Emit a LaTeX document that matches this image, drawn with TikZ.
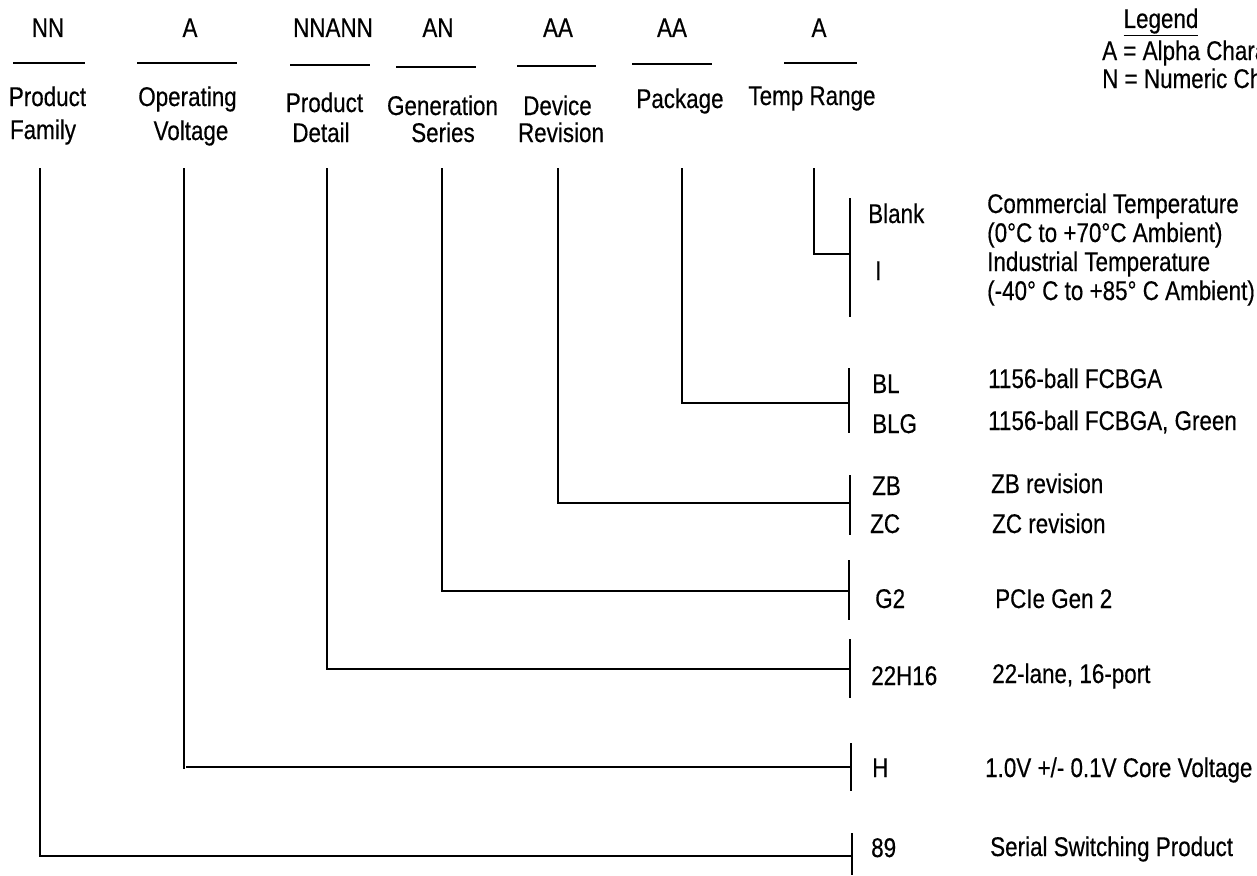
\documentclass[tikz,border=0pt]{standalone}
\usepackage{fontspec}
\setmainfont{Liberation Sans}[FakeStretch=0.83,FakeBold=0.4]
\newcommand\mysz{\fontsize{27}{30}\selectfont}
\begin{document}
\begin{tikzpicture}[x=1pt,y=-1pt,
  txt/.style={inner sep=0pt,font=\mysz,anchor=base},
  itm/.style={inner sep=0pt,font=\mysz,anchor=base west},
  ln/.style={line width=1.5pt},
  ul/.style={line width=2.2pt}]
\useasboundingbox (0,0) rectangle (1257,875);
\clip (0,0) rectangle (1257,875);
% codes
\node[txt] (c1) at (48,37) {NN};
\node[txt] (c2) at (190,37) {A};
\node[txt] (c3) at (333,37) {NNANN};
\node[txt] (c4) at (438,37) {AN};
\node[txt] (c5) at (558,37) {AA};
\node[txt] (c6) at (672,37) {AA};
\node[txt] (c7) at (819,37) {A};
% underlines
\draw[ul] (13,63) -- (85,63);
\draw[ul] (137,63) -- (237,63);
\draw[ul] (290,65) -- (370,65);
\draw[ul] (396,67) -- (476,67);
\draw[ul] (517,66) -- (596,66);
\draw[ul] (632,64) -- (712,64);
\draw[ul] (784,63) -- (857,63);
% field labels
\node[txt] (l1a) at (47.5,106) {Product};
\node[txt] (l1b) at (43,139) {Family};
\node[txt] (l2a) at (187.5,106) {Operating};
\node[txt] (l2b) at (191,140) {Voltage};
\node[txt] (l3a) at (324.5,112) {Product};
\node[txt] (l3b) at (321,142) {Detail};
\node[txt] (l4a) at (442.5,115) {Generation};
\node[txt] (l4b) at (443,142) {Series};
\node[txt] (l5a) at (557.5,115) {Device};
\node[txt] (l5b) at (561,142) {Revision};
\node[txt] (l6a) at (680,108) {Package};
\node[txt] (l7a) at (812,105) {Temp Range};
% legend
\node[txt] (lg) at (1161,28) {\underline{Legend}};
\node[itm] (lga) at (1102,60) {A = Alpha Character};
\node[itm] (lgn) at (1102,88) {N = Numeric Character};
% option codes and descriptions
\node[itm] (o7a) at (868,223) {Blank};
\node[itm] (o7b) at (875,280) {I};
\node[itm] (d7a) at (987,213) {Commercial Temperature};
\node[itm] (d7b) at (987,242) {(0°C to +70°C Ambient)};
\node[itm] (d7c) at (987,271) {Industrial Temperature};
\node[itm] (d7d) at (987,300) {(-40° C to +85° C Ambient)};
\node[itm] (o6a) at (872,393) {BL};
\node[itm] (o6b) at (872,433) {BLG};
\node[itm] (d6a) at (988,388) {1156-ball FCBGA};
\node[itm] (d6b) at (988,430) {1156-ball FCBGA, Green};
\node[itm] (o5a) at (872,495) {ZB};
\node[itm] (o5b) at (870,533) {ZC};
\node[itm] (d5a) at (991,493) {ZB revision};
\node[itm] (d5b) at (992,533) {ZC revision};
\node[itm] (o4) at (875,608) {G2};
\node[itm] (d4) at (995,608) {PCIe Gen 2};
\node[itm] (o3) at (871,685) {22H16};
\node[itm] (d3) at (992,683) {22-lane, 16-port};
\node[itm] (o2) at (872,777) {H};
\node[itm] (d2) at (985,777) {1.0V +/- 0.1V Core Voltage};
\node[itm] (o1) at (871,857) {89};
\node[itm] (d1) at (990,856) {Serial Switching Product};
% connector coordinates
\coordinate (t1) at (40,168);
\coordinate (t2) at (184,168);
\coordinate (t3) at (327,168);
\coordinate (t4) at (442,168);
\coordinate (t5) at (558,168);
\coordinate (t6) at (682,168);
\coordinate (t7) at (814,168);
\coordinate (b1a) at (852,833); \coordinate (b1b) at (852,875); \coordinate (j1) at (852,856);
\coordinate (b2a) at (851,743); \coordinate (b2b) at (851,791); \coordinate (j2) at (851,767);
\coordinate (v2e) at (184,769); \coordinate (h2s) at (186,767);
\coordinate (b3a) at (850,639); \coordinate (b3b) at (850,698); \coordinate (j3) at (850,669);
\coordinate (b4a) at (849,560); \coordinate (b4b) at (849,620); \coordinate (j4) at (849,591);
\coordinate (b5a) at (850,475); \coordinate (b5b) at (850,535); \coordinate (j5) at (850,503);
\coordinate (b6a) at (849,368); \coordinate (b6b) at (849,433); \coordinate (j6) at (849,403);
\coordinate (b7a) at (850,198); \coordinate (b7b) at (850,317); \coordinate (j7) at (850,254);
% bars
\draw[ln] (b1a) -- (b1b);
\draw[ln] (b2a) -- (b2b);
\draw[ln] (b3a) -- (b3b);
\draw[ln] (b4a) -- (b4b);
\draw[ln] (b5a) -- (b5b);
\draw[ln] (b6a) -- (b6b);
\draw[ln] (b7a) -- (b7b);
% connectors
\draw[ln] (t1) |- (j1);
\draw[ln] (t2) -- (v2e);
\draw[ln] (h2s) -- (j2);
\draw[ln] (t3) |- (j3);
\draw[ln] (t4) |- (j4);
\draw[ln] (t5) |- (j5);
\draw[ln] (t6) |- (j6);
\draw[ln] (t7) |- (j7);
\end{tikzpicture}
\end{document}
